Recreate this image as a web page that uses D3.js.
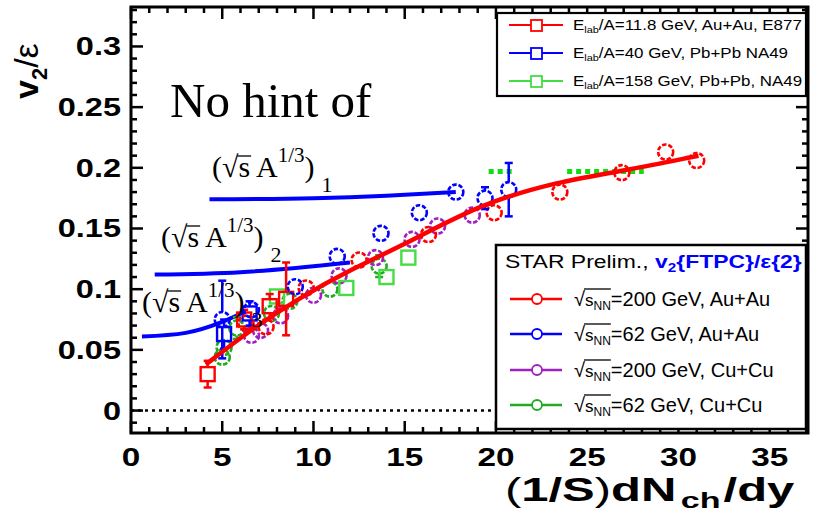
<!DOCTYPE html>
<html><head><meta charset="utf-8">
<script src="https://cdn.jsdelivr.net/npm/d3@7"></script>
<style>
html,body{margin:0;padding:0;background:#fff;}
svg{display:block;}
</style></head>
<body>
<svg id="chart" width="818" height="513"></svg>
<script>
// ---------- data ----------
const xTicks = [0, 5, 10, 15, 20, 25, 30, 35];
const yTicks = [0, 0.05, 0.1, 0.15, 0.2, 0.25, 0.3];

// E877 Au+Au 11.8 GeV (red squares)
const e877X = [4.2, 6.2, 7.6, 8.5];
const e877Y = [0.030, 0.075, 0.086, 0.092];
const e877Err = [0.011, 0.008, 0.010, 0.030];
// NA49 Pb+Pb 40 GeV (blue squares)
const na49_40X = [5.1, 6.5];
const na49_40Y = [0.063, 0.080];
const na49_40Err = [0.012, 0.010];
// NA49 Pb+Pb 158 GeV (green squares)
const na49_158X = [8.0, 11.8, 14.0, 15.2];
const na49_158Y = [0.094, 0.101, 0.110, 0.126];
const na49_158Err = [0, 0, 0, 0];
// STAR Au+Au 200 GeV (red circles)
const starAu200X = [6.3, 7.4, 9.6, 12.5, 16.3, 19.9, 23.5, 26.9, 29.3, 31.0];
const starAu200Y = [0.072, 0.069, 0.101, 0.124, 0.145, 0.163, 0.180, 0.196, 0.213, 0.206];
// STAR Au+Au 62 GeV (blue circles)
const starAu62X = [5.0, 6.6, 9.0, 11.3, 13.7, 15.8, 17.8, 19.4, 20.7];
const starAu62Y = [0.075, 0.083, 0.102, 0.127, 0.146, 0.163, 0.180, 0.175, 0.182];
const starAu62Err = [0.032, 0, 0, 0, 0, 0, 0, 0.009, 0.022];
// STAR Cu+Cu 200 GeV (purple circles)
const starCu200X = [6.6, 7.1, 8.2, 10.0, 11.4, 13.4, 15.4, 16.8, 18.7];
const starCu200Y = [0.062, 0.066, 0.078, 0.095, 0.111, 0.126, 0.141, 0.152, 0.161];
// STAR Cu+Cu 62 GeV (green circles)
const starCu62X = [5.0, 5.1, 5.8, 7.7, 8.7, 10.9, 13.6];
const starCu62Y = [0.044, 0.052, 0.068, 0.080, 0.090, 0.100, 0.119];
const starCu62Err = [0, 0, 0.009, 0, 0, 0, 0.009];

// fit curve through STAR Au+Au
const fitX = [4.1, 6.7, 9.25, 12.0, 15.3, 19.1, 23.5, 26.8, 31.1];
const fitY = [0.038, 0.068, 0.093, 0.116, 0.139, 0.170, 0.189, 0.197, 0.210];
// hypothetical (sqrt(s) A^1/3) lines
const line1X = [4.3, 10, 14, 17.8];
const line1Y = [0.174, 0.175, 0.177, 0.180];
const line2X = [1.3, 6, 12.0];
const line2Y = [0.112, 0.114, 0.122];
const line3X = [0.6, 3, 5, 6.3];
const line3Y = [0.061, 0.064, 0.073, 0.082];
// green dotted segments
const gdotX = [[19.6, 21.0], [23.9, 28.1]];
const gdotY = [0.197, 0.197];

// ---------- setup ----------
const svg = d3.select("#chart");
const L = 131, R = 808, T = 7, B = 433;
const x = d3.scaleLinear().domain([0, 37.1]).range([L, R]);
const y = d3.scaleLinear().domain([-0.0185, 0.3325]).range([B, T]);

const RED = "#ff0000", BLUE = "#0000ff", PURPLE = "#a020c0", GREEN = "#22aa22", LGREEN = "#44dd44";
const sans = "Liberation Sans, Arial, sans-serif";
const serif = "Liberation Serif, Times New Roman, serif";

function stretchTo(sel, x0, y0, w) {
  const nat = sel.node().getComputedTextLength();
  const s = w / nat;
  sel.attr("transform", `translate(${x0},${y0}) scale(${s},1)`);
  return s;
}
function stretchBy(sel, x0, y0, s) {
  sel.attr("transform", `translate(${x0},${y0}) scale(${s},1)`);
}

// zero dotted line
svg.append("line").attr("x1", x(0)).attr("x2", 496).attr("y1", y(0)).attr("y2", y(0))
  .attr("stroke", "#000").attr("stroke-width", 2.5).attr("stroke-dasharray", "3,4");

// green dotted segments
gdotX.forEach((s, i) => {
  svg.append("line").attr("x1", x(s[0])).attr("x2", x(s[1])).attr("y1", y(gdotY[i])).attr("y2", y(gdotY[i]))
    .attr("stroke", "#11dd11").attr("stroke-width", 5).attr("stroke-dasharray", "5,4");
});

// hypothetical blue lines
const lineGen = d3.line().x(d => x(d[0])).y(d => y(d[1])).curve(d3.curveMonotoneX);
[[line1X, line1Y], [line2X, line2Y], [line3X, line3Y]].forEach(([xs, ys]) => {
  svg.append("path").attr("d", lineGen(xs.map((v, i) => [v, ys[i]])))
    .attr("fill", "none").attr("stroke", BLUE).attr("stroke-width", 4);
});

// markers
const MR = 7.5;
function errBars(xs, ys, es, color) {
  const g = svg.append("g");
  xs.forEach((v, i) => {
    if (!es || !es[i]) return;
    const cx = x(v), cy = y(ys[i]), y1 = y(ys[i] + es[i]), y2 = y(ys[i] - es[i]);
    if (cy - y1 > MR) {
      g.append("line").attr("x1", cx).attr("x2", cx).attr("y1", y1).attr("y2", cy - MR).attr("stroke", color).attr("stroke-width", 2.5);
      g.append("line").attr("x1", cx - 4).attr("x2", cx + 4).attr("y1", y1).attr("y2", y1).attr("stroke", color).attr("stroke-width", 2.5);
    }
    if (y2 - cy > MR) {
      g.append("line").attr("x1", cx).attr("x2", cx).attr("y1", cy + MR).attr("y2", y2).attr("stroke", color).attr("stroke-width", 2.5);
      g.append("line").attr("x1", cx - 4).attr("x2", cx + 4).attr("y1", y2).attr("y2", y2).attr("stroke", color).attr("stroke-width", 2.5);
    }
  });
}
function squares(xs, ys, color) {
  svg.append("g").selectAll("rect").data(xs.map((v, i) => [v, ys[i]])).join("rect")
    .attr("x", d => x(d[0]) - 7).attr("y", d => y(d[1]) - 7).attr("width", 14).attr("height", 14)
    .attr("fill", "none").attr("stroke", color).attr("stroke-width", 2.4);
}
function circles(xs, ys, color) {
  svg.append("g").selectAll("circle").data(xs.map((v, i) => [v, ys[i]])).join("circle")
    .attr("cx", d => x(d[0])).attr("cy", d => y(d[1])).attr("r", MR)
    .attr("fill", "none").attr("stroke", color).attr("stroke-width", 2.6).attr("stroke-dasharray", "4.5,1.8");
}

errBars(starCu62X, starCu62Y, starCu62Err, GREEN);
circles(starCu62X, starCu62Y, GREEN);
circles(starCu200X, starCu200Y, PURPLE);
errBars(na49_158X, na49_158Y, na49_158Err, LGREEN);
squares(na49_158X, na49_158Y, LGREEN);
errBars(e877X, e877Y, e877Err, RED);
squares(e877X, e877Y, RED);
errBars(na49_40X, na49_40Y, na49_40Err, BLUE);
squares(na49_40X, na49_40Y, BLUE);
circles(starAu200X, starAu200Y, RED);
errBars(starAu62X, starAu62Y, starAu62Err, BLUE);
circles(starAu62X, starAu62Y, BLUE);

// fit curve
svg.append("path").attr("d", d3.line().x(d => x(d[0])).y(d => y(d[1])).curve(d3.curveBasis)(fitX.map((v, i) => [v, fitY[i]])))
  .attr("fill", "none").attr("stroke", RED).attr("stroke-width", 4.5);

// ---------- annotations ----------
svg.append("text").attr("x", 170).attr("y", 117).attr("font-family", serif).attr("font-size", 49).text("No hint of");
function sqrtLabel(x0, base, sub) {
  const t = svg.append("text").attr("x", x0).attr("y", base).attr("font-family", serif).attr("font-size", 30);
  t.append("tspan").text("(√s A");
  t.append("tspan").attr("font-size", 21).attr("dy", -15).text("1/3");
  t.append("tspan").attr("dy", 15).text(")");
  t.append("tspan").attr("font-size", 22).attr("dy", 15).attr("dx", 7).text(sub);
  const n = t.node();
  const xs = n.getEndPositionOfChar(1).x, xe = n.getEndPositionOfChar(2).x;
  svg.append("line").attr("x1", xs - 1).attr("x2", xe + 1).attr("y1", base - 21).attr("y2", base - 21)
    .attr("stroke", "#000").attr("stroke-width", 1.3);
}
sqrtLabel(212, 177, "1");
sqrtLabel(161, 247, "2");
sqrtLabel(142, 312, "3");

// ---------- frame & ticks ----------
const frame = svg.append("g");
function ticksX(pos, dir) {
  d3.range(0, 37.01, 1).forEach(v => {
    const major = v % 5 === 0, len = major ? 12 : 6;
    frame.append("line").attr("x1", x(v)).attr("x2", x(v)).attr("y1", pos).attr("y2", pos + dir * len)
      .attr("stroke", "#000").attr("stroke-width", 2.5);
  });
}
function ticksY(pos, dir) {
  d3.range(-0.01, 0.331, 0.01).forEach(v => {
    const major = Math.abs(Math.round(v * 100) % 5) === 0, len = major ? 12 : 6;
    frame.append("line").attr("x1", pos).attr("x2", pos + dir * len).attr("y1", y(v)).attr("y2", y(v))
      .attr("stroke", "#000").attr("stroke-width", 2.5);
  });
}
ticksX(B, -1); ticksX(T, 1); ticksY(L, 1); ticksY(R, -1);
frame.append("rect").attr("x", L).attr("y", T).attr("width", R - L).attr("height", B - T)
  .attr("fill", "none").attr("stroke", "#000").attr("stroke-width", 3);

// tick labels
const xl = svg.append("g").selectAll("text").data(xTicks).join("text")
  .attr("text-anchor", "middle")
  .attr("font-family", sans).attr("font-weight", "bold").attr("font-size", 26)
  .text(d => d);
xl.attr("transform", d => `translate(${x(d)},466) scale(1.28,1)`);
const yl = svg.append("g").selectAll("text").data(yTicks).join("text")
  .attr("text-anchor", "end")
  .attr("font-family", sans).attr("font-weight", "bold").attr("font-size", 25)
  .text(d => String(d));
yl.attr("transform", d => `translate(121,${y(d) + 9}) scale(1.3,1)`);

// axis titles
const xt = svg.append("text").attr("font-family", sans).attr("font-weight", "bold").attr("font-size", 33);
xt.append("tspan").attr("font-weight", "normal").text("(");
xt.append("tspan").text("1/S");
xt.append("tspan").attr("font-weight", "normal").text(")");
xt.append("tspan").text("dN");
xt.append("tspan").attr("font-size", 23).attr("dy", 7).attr("dx", 3).text("ch");
xt.append("tspan").attr("dy", -7).attr("dx", 2).text("/dy");
stretchTo(xt, 505, 501, 282);

const yt = svg.append("text").attr("transform", "translate(38,99) rotate(-90)")
  .attr("font-family", sans).attr("font-weight", "bold").attr("font-size", 34);
yt.append("tspan").text("v");
yt.append("tspan").attr("font-size", 22).attr("dy", 9).text("2");
yt.append("tspan").attr("dy", -9).attr("font-weight", "normal").text("/ε");

// ---------- legends ----------
const leg1 = svg.append("g");
leg1.append("rect").attr("x", 497).attr("y", 13).attr("width", 309).attr("height", 83)
  .attr("fill", "#fff").attr("stroke", "#000").attr("stroke-width", 2.2);
const leg1Labels = [["11.8 GeV, Au+Au, E877", RED], ["40 GeV, Pb+Pb NA49", BLUE], ["158 GeV, Pb+Pb, NA49", LGREEN]];
const leg1Y = [25, 53, 81];
let s1 = null;
leg1Labels.forEach((d, i) => {
  const yy = leg1Y[i];
  leg1.append("line").attr("x1", 509).attr("x2", 563).attr("y1", yy).attr("y2", yy).attr("stroke", d[1]).attr("stroke-width", 2);
  leg1.append("rect").attr("x", 531).attr("y", yy - 5).attr("width", 11).attr("height", 11).attr("fill", "#fff").attr("stroke", d[1]).attr("stroke-width", 1.8);
  const t = leg1.append("text").attr("font-family", sans).attr("font-size", 14);
  t.append("tspan").text("E");
  t.append("tspan").attr("font-size", 9).attr("dy", 3).text("lab");
  t.append("tspan").attr("dy", -3).text("/A=" + d[0]);
  if (s1 === null) s1 = stretchTo(t, 573, yy + 5, 229);
  else stretchBy(t, 573, yy + 5, s1);
});

const leg2 = svg.append("g");
leg2.append("rect").attr("x", 496).attr("y", 245).attr("width", 310).attr("height", 184)
  .attr("fill", "#fff").attr("stroke", "#000").attr("stroke-width", 2.5);
const h = leg2.append("text").attr("font-family", sans).attr("font-size", 18);
h.append("tspan").text("STAR Prelim., ");
h.append("tspan").attr("fill", BLUE).attr("font-weight", "bold").text("v");
h.append("tspan").attr("fill", BLUE).attr("font-weight", "bold").attr("font-size", 12).attr("dy", 4).text("2");
h.append("tspan").attr("fill", BLUE).attr("font-weight", "bold").attr("dy", -4).text("{FTPC}/ε{2}");
stretchTo(h, 505, 268, 297);
const leg2Labels = [["200 GeV, Au+Au", RED], ["62 GeV, Au+Au", BLUE], ["200 GeV, Cu+Cu", PURPLE], ["62 GeV, Cu+Cu", GREEN]];
const leg2Y = [299, 334, 370, 405];
leg2Labels.forEach((d, i) => {
  const yy = leg2Y[i];
  leg2.append("line").attr("x1", 510).attr("x2", 562).attr("y1", yy).attr("y2", yy).attr("stroke", d[1]).attr("stroke-width", 2.5);
  leg2.append("circle").attr("cx", 537).attr("cy", yy).attr("r", 5).attr("fill", "#fff").attr("stroke", d[1]).attr("stroke-width", 1.8);
  const t = leg2.append("text").attr("x", 574).attr("y", yy + 7).attr("font-family", sans).attr("font-size", 20);
  t.append("tspan").text("√");
  t.append("tspan").attr("font-size", 17).text("s");
  t.append("tspan").attr("font-size", 12).attr("dy", 4).text("NN");
  t.append("tspan").attr("dy", -4).text("=" + d[0]);
  const n = t.node();
  const xs = n.getEndPositionOfChar(0).x, xe = n.getEndPositionOfChar(3).x;
  leg2.append("line").attr("x1", xs - 1).attr("x2", xe).attr("y1", yy - 10).attr("y2", yy - 10)
    .attr("stroke", "#000").attr("stroke-width", 1.3);
});
</script>
</body></html>
